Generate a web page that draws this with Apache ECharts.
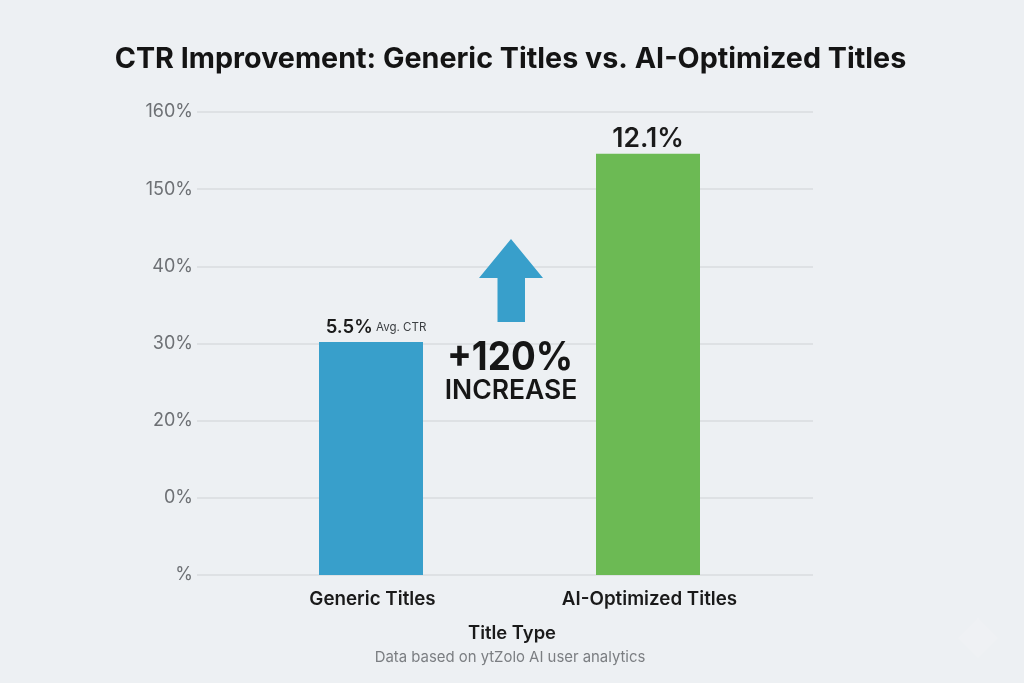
<!DOCTYPE html>
<html>
<head>
<meta charset="utf-8">
<style>
html, body { margin: 0; padding: 0; background: #edf0f3; }
#chart { width: 1024px; height: 683px; }
</style>
<script src="https://cdn.jsdelivr.net/npm/echarts@6/dist/echarts.min.js"></script>
</head>
<body>
<div id="chart"></div>
<script>
var FONT = 'Inter, "Liberation Sans", sans-serif';

var categories = ['Generic Titles', 'AI-Optimized Titles'];
// the picture's axis is uneven, so bars are measured in tick steps
var tickLabels = ['%', '0%', '20%', '30%', '40%', '150%', '160%'];
var barHeights = [3.02, 5.46];
var barLabels = ['5.5%', '12.1%'];
var barColors = ['#389fcb', '#6cba54'];

var myChart = echarts.init(document.getElementById('chart'));

var option = {
    backgroundColor: '#edf0f3',
    animation: false,
    title: {
        text: 'CTR Improvement: Generic Titles vs. AI-Optimized Titles',
        left: 505.5, top: 40, textAlign: 'center',
        textStyle: { fontFamily: FONT, fontSize: 28.7, fontWeight: 700, color: '#141414' }
    },
    grid: [
        { left: 197, right: 211, top: 112, bottom: 108 },
        { left: 232.5, right: 237.5, top: 112, bottom: 108 }
    ],
    xAxis: [
        { gridIndex: 0, type: 'value', show: false },
        {
            gridIndex: 1, type: 'category', data: categories,
            axisLine: { show: false }, axisTick: { show: false },
            axisLabel: { margin: 15, padding: [0, 0, 0, 3], fontFamily: FONT, fontSize: 18.8, fontWeight: 600, color: '#1a1a1a' },
            name: 'Title Type', nameLocation: 'middle', nameGap: 49,
            nameTextStyle: { padding: [0, 0, 0, 5], fontFamily: FONT, fontSize: 18.4, fontWeight: 600, color: '#1a1a1a' }
        }
    ],
    yAxis: [
        {
            gridIndex: 0, type: 'value', min: 0, max: tickLabels.length - 1, interval: 1,
            axisLine: { show: false }, axisTick: { show: false },
            axisLabel: {
                margin: 4, padding: [3, 0, 0, 0], fontFamily: FONT, fontSize: 18, color: '#6d7074',
                formatter: function (v) { return tickLabels[v]; }
            },
            splitLine: { lineStyle: { color: '#d9dcdf', width: 1.5 } }
        },
        { gridIndex: 1, type: 'value', min: 0, max: tickLabels.length - 1, show: false }
    ],
    series: [{
        type: 'bar',
        xAxisIndex: 1,
        yAxisIndex: 1,
        barWidth: 104,
        data: barHeights.map(function (h, i) {
            return {
                value: h,
                itemStyle: { color: barColors[i] },
                label: i === 0
                    ? { offset: [5, 0], formatter: '{v|' + barLabels[i] + '} {s|Avg. CTR}' }
                    : { distance: 1, formatter: '{w|' + barLabels[i] + '}' }
            };
        }),
        label: {
            show: true,
            position: 'top',
            distance: 5,
            rich: {
                v: { fontFamily: FONT, fontSize: 18.5, fontWeight: 600, color: '#1a1a1a' },
                w: { fontFamily: FONT, fontSize: 26.5, fontWeight: 600, color: '#1a1a1a' },
                s: { fontFamily: FONT, fontSize: 11.5, color: '#3c3f42' }
            }
        }
    }],
    graphic: [
        {
            type: 'polygon', z: 10,
            shape: { points: [[511, 239], [543, 278], [525, 278], [525, 322], [497.5, 322], [497.5, 278], [479, 278]] },
            style: { fill: '#389fcb' }
        },
        {
            type: 'text', x: 510, y: 358, scaleX: 0.92, z: 10,
            style: { text: '+120%', align: 'center', verticalAlign: 'middle', font: '700 40px ' + FONT, fill: '#161616' }
        },
        {
            type: 'text', x: 511, y: 391, z: 10,
            style: { text: 'INCREASE', align: 'center', verticalAlign: 'middle', font: '600 26.5px ' + FONT, fill: '#161616' }
        },
        {
            type: 'text', x: 510, y: 658, z: 10,
            style: { text: 'Data based on ytZolo AI user analytics', align: 'center', verticalAlign: 'middle', font: '14.9px ' + FONT, fill: '#7b7e82' }
        },
        {
            type: 'polygon', z: 10,
            shape: { points: [[978, 617], [998, 638], [978, 658], [958, 638]] },
            style: { fill: '#eff1f4' }
        }
    ]
};

myChart.setOption(option);
</script>
</body>
</html>
